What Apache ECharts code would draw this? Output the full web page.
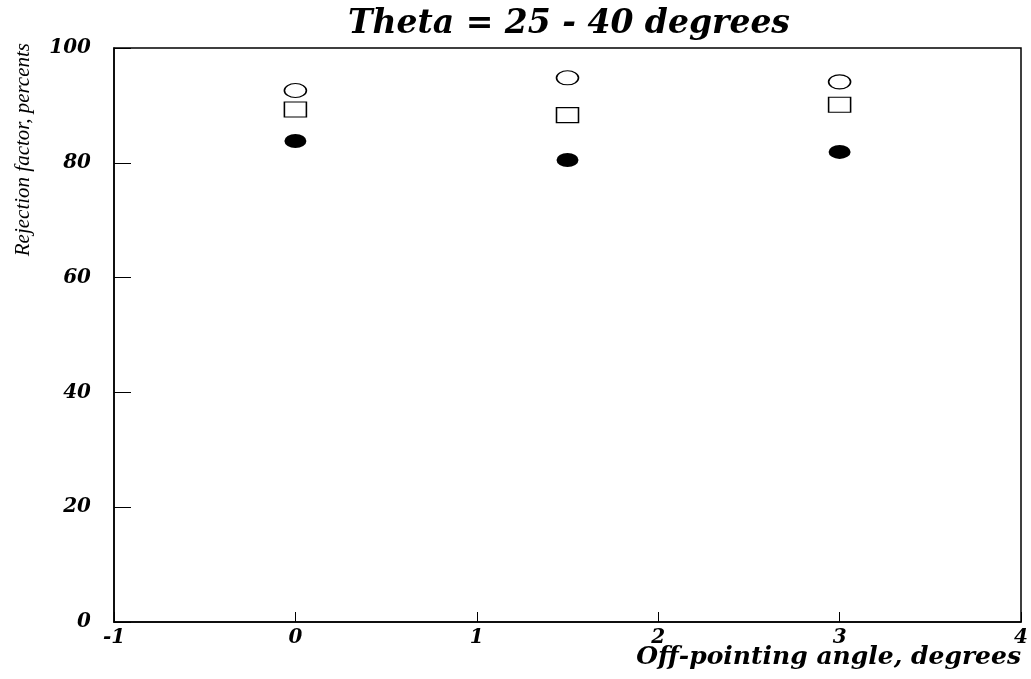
<!DOCTYPE html>
<html lang="en">

<head>
    <meta charset="UTF-8">
    <title>Theta = 25 - 40 degrees</title>
    <script src="https://cdn.jsdelivr.net/npm/echarts@6/dist/echarts.min.js"></script>
    <style>
        html, body { margin: 0; padding: 0; background: #fff; }
        #main { width: 1031px; height: 679px; }
    </style>
</head>

<body>
    <div id="main"></div>

    <script>
        // off-pointing angle, degrees
        var angles = [0, 1.5, 3];
        // rejection factor, percents
        var openCircle = [92.6, 94.8, 94.1];
        var openSquare = [89.3, 88.3, 90.1];
        var filledCircle = [83.8, 80.5, 81.9];

        var serif = '"Liberation Serif", "Times New Roman", serif';
        var wide = '"DejaVu Serif", serif';

        function pts(ys) {
            return angles.map(function (x, i) { return [x, ys[i]]; });
        }

        var labelStyle = {
            color: '#000',
            fontFamily: wide,
            fontStyle: 'italic',
            fontWeight: 'bold',
            fontSize: 20
        };

        var chart = echarts.init(document.getElementById('main'));
        chart.setOption({
            animation: false,
            title: {
                text: 'Theta = 25 - 40 degrees',
                left: 564,
                textAlign: 'center',
                top: 3,
                textStyle: {
                    color: '#000',
                    fontFamily: wide,
                    fontStyle: 'italic',
                    fontWeight: 'bold',
                    fontSize: 33
                }
            },
            grid: {
                left: 114,
                right: 10,
                top: 48,
                bottom: 57,
                outerBoundsMode: 'none',
                containLabel: false,
                show: true,
                borderColor: '#000',
                borderWidth: 1.5
            },
            xAxis: {
                type: 'value',
                min: -1,
                max: 4,
                interval: 1,
                name: 'Off-pointing angle, degrees',
                nameLocation: 'end',
                nameGap: 0,
                nameMoveOverlap: false,
                nameTextStyle: {
                    color: '#000',
                    fontFamily: wide,
                    fontStyle: 'italic',
                    fontWeight: 'bold',
                    fontSize: 25,
                    align: 'right',
                    verticalAlign: 'top',
                    padding: [23, 0, 0, 0]
                },
                axisLine: { onZero: false, lineStyle: { color: '#000', width: 1.5 } },
                axisTick: { inside: true, length: 10, lineStyle: { color: '#000' } },
                splitLine: { show: false },
                axisLabel: Object.assign({ margin: 6 }, labelStyle)
            },
            yAxis: {
                type: 'value',
                min: 0,
                max: 100,
                interval: 20,
                name: 'Rejection factor, percents',
                nameLocation: 'end',
                nameRotate: 90,
                nameGap: 5,
                nameMoveOverlap: false,
                nameTextStyle: {
                    color: '#000',
                    fontFamily: serif,
                    fontStyle: 'italic',
                    fontSize: 21,
                    align: 'right',
                    verticalAlign: 'bottom',
                    padding: [0, 0, 80, 0]
                },
                axisLine: { onZero: false, lineStyle: { color: '#000', width: 1.5 } },
                axisTick: { inside: true, length: 17, lineStyle: { color: '#000' } },
                splitLine: { show: false },
                axisLabel: Object.assign({ margin: 23 }, labelStyle)
            },
            series: [{
                name: 'open circle',
                type: 'scatter',
                symbol: 'circle',
                symbolSize: [22, 14],
                itemStyle: { color: '#fff', borderColor: '#000', borderWidth: 1.3, opacity: 1 },
                data: pts(openCircle)
            }, {
                name: 'open square',
                type: 'scatter',
                symbol: 'rect',
                symbolSize: [22, 15],
                itemStyle: { color: '#fff', borderColor: '#000', borderWidth: 1.3, opacity: 1 },
                data: pts(openSquare)
            }, {
                name: 'filled circle',
                type: 'scatter',
                symbol: 'circle',
                symbolSize: [22, 14],
                itemStyle: { color: '#000', opacity: 1 },
                data: pts(filledCircle)
            }]
        });
    </script>
</body>

</html>
